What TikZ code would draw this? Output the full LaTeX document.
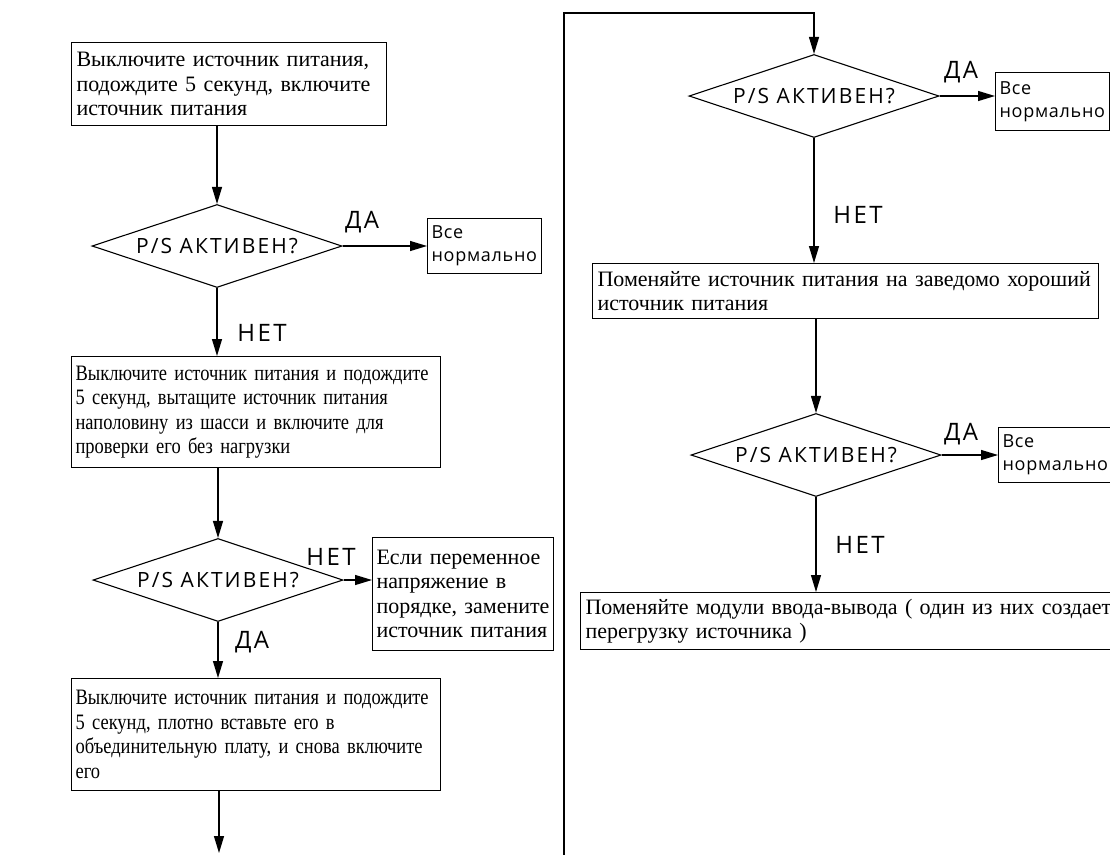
\documentclass[tikz,border=0pt]{standalone}
\usepackage{fontspec}
\setmainfont{Liberation Serif}
\newfontfamily\narrowserif[FakeStretch=0.84]{Liberation Serif}
\newfontfamily\labelfont[LetterSpace=10]{Open Sans}
\newfontfamily\okfont[LetterSpace=4]{Open Sans}
\usepackage{tikz}
\usetikzlibrary{shapes.geometric, arrows.meta}
\tikzset{
  stepbox/.style={
    draw, line width=1.1pt, anchor=north west, align=left,
    inner xsep=5pt, inner ysep=3pt,
    font=\fontsize{22}{24.5}\selectfont
  },
  narrowbox/.style={stepbox, inner xsep=4pt, font=\narrowserif\fontsize{22}{24.5}\selectfont},
  okbox/.style={
    draw, line width=1.1pt, anchor=north west, align=left,
    inner xsep=4pt, inner ysep=2pt,
    font=\okfont\fontsize{18}{23}\selectfont
  },
  decision/.style={
    diamond, draw, line width=1.1pt, aspect=3, inner sep=0pt,
    minimum width=250pt, minimum height=83pt,
    font=\labelfont\fontsize{21}{24}\selectfont
  },
  answer/.style={inner sep=0pt, font=\labelfont\fontsize{24}{28}\selectfont},
  flow/.style={-{Triangle[length=17pt,width=10pt]}, line width=1.2pt},
}

\begin{document}
\begin{tikzpicture}[x=1pt, y=-1pt]
\useasboundingbox (0,0) rectangle (1110,854);

%% ── left column ──────────────────────────────────────────────
\node[stepbox, text width=305pt, minimum height=83pt] (off1) at (71,42)
  {Выключите источник питания,\\подождите 5 секунд, включите\\источник питания};
\node[decision] (chk1) at (217,246) {P/S АКТИВЕН?};
\node[okbox, minimum width=111pt, minimum height=55pt] (ok1) at (427,218)
  {Все\\нормально};
\node[narrowbox, text width=361pt, minimum height=111pt] (pull) at (71,356)
  {Выключите источник питания и подождите\\5 секунд, вытащите источник питания\\наполовину из шасси и включите для\\проверки его без нагрузки};
\node[decision] (chk2) at (218,580) {P/S АКТИВЕН?};
\node[stepbox, inner xsep=4pt, text width=173pt, minimum height=113pt] (acline) at (372,537)
  {Если переменное\\напряжение в\\порядке, замените\\источник питания};
\node[narrowbox, text width=361pt, minimum height=112pt] (seat) at (71,678)
  {Выключите источник питания и подождите\\5 секунд, плотно вставьте его в\\объединительную плату, и снова включите\\его};
\coordinate (exit) at (219,853);

%% ── right column ─────────────────────────────────────────────
\coordinate (entry) at (564,870);
\coordinate (entrytop) at (564,13);
\node[decision] (chk3) at (814,96) {P/S АКТИВЕН?};
\node[okbox, minimum width=112pt, minimum height=58pt] (ok3) at (995,72)
  {Все\\нормально};
\node[stepbox, text width=496pt, minimum height=55pt] (swap) at (592,263)
  {Поменяйте источник питания на заведомо хороший\\источник питания};
\node[decision] (chk4) at (816,455) {P/S АКТИВЕН?};
\node[okbox, minimum width=109pt, minimum height=55pt] (ok4) at (998,427)
  {Все\\нормально};
\node[stepbox, text width=540pt, minimum height=57pt] (iomod) at (580,592)
  {Поменяйте модули ввода-вывода ( один из них создает\\перегрузку источника )};

%% ── connectors ───────────────────────────────────────────────
\draw[flow] (off1.south -| chk1.north) -- (chk1.north);
\draw[flow] (chk1.east) -- (chk1.east -| ok1.west);
\draw[flow] (chk1.south) -- (chk1.south |- pull.north);
\draw[flow] (pull.south -| chk2.north) -- (chk2.north);
\draw[flow] (chk2.east) -- (chk2.east -| acline.west);
\draw[flow] (chk2.south) -- (chk2.south |- seat.north);
\draw[flow] (seat.south -| exit) -- (exit);

\draw[flow] (entry) -- (entrytop) -| (chk3.north);
\draw[flow] (chk3.east) -- (chk3.east -| ok3.west);
\draw[flow] (chk3.south) -- (chk3.south |- swap.north);
\draw[flow] (swap.south -| chk4.north) -- (chk4.north);
\draw[flow] (chk4.east) -- (chk4.east -| ok4.west);
\draw[flow] (chk4.south) -- (chk4.south |- iomod.north);

%% ── branch labels ────────────────────────────────────────────
\node[answer] (yes1) at (362,222) {ДА};
\node[answer] (no1)  at (262,333) {НЕТ};
\node[answer] (no2)  at (331,557) {НЕТ};
\node[answer] (yes2) at (252,642) {ДА};
\node[answer] (yes3) at (961,72)  {ДА};
\node[answer] (no3)  at (858,215) {НЕТ};
\node[answer] (yes4) at (961,434) {ДА};
\node[answer] (no4)  at (860,545) {НЕТ};

\end{tikzpicture}
\end{document}
